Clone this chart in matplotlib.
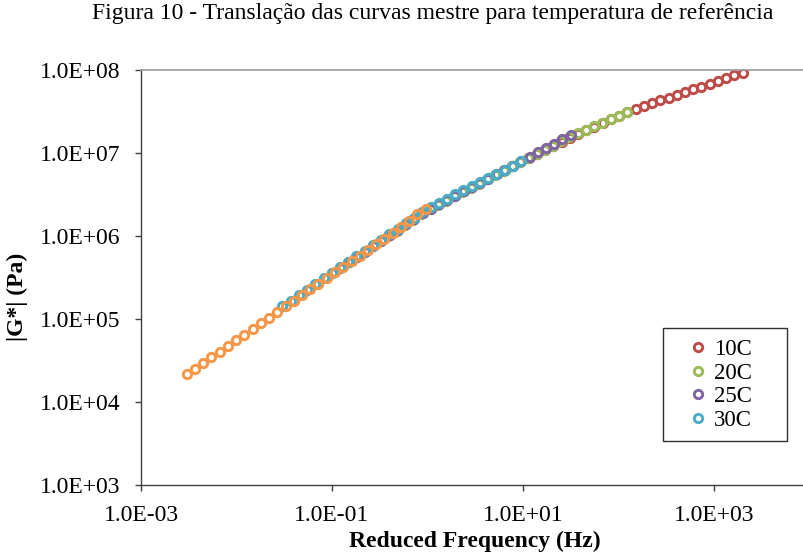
import matplotlib
matplotlib.use("Agg")
import matplotlib.pyplot as plt
from matplotlib.ticker import FixedLocator, FuncFormatter, NullLocator
from matplotlib.patches import Rectangle
import numpy as np

plt.rcParams['font.family'] = ['Liberation Serif', 'DejaVu Serif']

# Test frequencies (Hz) common to every temperature sweep
base_freq = [0.100, 0.122, 0.149, 0.181, 0.221, 0.270, 0.329, 0.401, 0.489, 0.597,
             0.728, 0.888, 1.08, 1.32, 1.61, 1.96, 2.39, 2.92, 3.56, 4.34,
             5.30, 6.46, 7.88, 9.61, 11.7, 14.3, 17.4, 21.3, 25.9, 31.6]

# shift factors aT for each temperature (reduced frequency = f * aT)
shift_10C = 63.1
shift_20C = 3.89
shift_25C = 1.0
shift_30C = 0.302
shift_40C = 0.0302

g_10C = [6.31e6, 7.05e6, 7.87e6, 8.79e6, 9.82e6, 1.10e7, 1.22e7, 1.37e7, 1.53e7, 1.69e7,
         1.88e7, 2.08e7, 2.31e7, 2.56e7, 2.83e7, 3.14e7, 3.40e7, 3.67e7, 3.97e7, 4.30e7,
         4.63e7, 5.01e7, 5.42e7, 5.85e7, 6.32e7, 6.82e7, 7.38e7, 7.98e7, 8.61e7, 9.31e7]
g_20C = [1.00e6, 1.16e6, 1.35e6, 1.57e6, 1.82e6, 2.10e6, 2.37e6, 2.66e6, 3.00e6, 3.38e6,
         3.80e6, 4.29e6, 4.82e6, 5.43e6, 6.12e6, 6.89e6, 7.74e6, 8.71e6, 9.79e6, 1.10e7,
         1.23e7, 1.39e7, 1.56e7, 1.72e7, 1.90e7, 2.09e7, 2.31e7, 2.55e7, 2.82e7, 3.12e7]
g_25C = [3.55e5, 4.13e5, 4.80e5, 5.58e5, 6.49e5, 7.55e5, 8.77e5, 1.02e6, 1.19e6, 1.38e6,
         1.60e6, 1.87e6, 2.14e6, 2.41e6, 2.72e6, 3.05e6, 3.44e6, 3.88e6, 4.36e6, 4.92e6,
         5.53e6, 6.22e6, 7.01e6, 8.00e6, 9.01e6, 1.02e7, 1.15e7, 1.29e7, 1.46e7, 1.64e7]
g_30C = [1.43e5, 1.67e5, 1.94e5, 2.26e5, 2.64e5, 3.08e5, 3.58e5, 4.18e5, 4.86e5, 5.68e5,
         6.62e5, 7.71e5, 8.99e5, 1.05e6, 1.22e6, 1.42e6, 1.66e6, 1.93e6, 2.25e6, 2.52e6,
         2.83e6, 3.17e6, 3.56e6, 3.99e6, 4.47e6, 5.01e6, 5.61e6, 6.30e6, 7.06e6, 7.92e6]
g_40C = [2.16e4, 2.53e4, 2.96e4, 3.46e4, 4.05e4, 4.74e4, 5.55e4, 6.49e4, 7.59e4, 8.87e4,
         1.04e5, 1.21e5, 1.42e5, 1.66e5, 1.94e5, 2.28e5, 2.66e5, 3.11e5, 3.64e5, 4.26e5,
         4.98e5, 5.82e5, 6.81e5, 7.96e5, 9.31e5, 1.10e6, 1.30e6, 1.53e6, 1.82e6, 2.14e6]

series = [
    ("10C", shift_10C, g_10C, "#BE4B48", True),
    ("20C", shift_20C, g_20C, "#9BBB59", True),
    ("25C", shift_25C, g_25C, "#8064A2", True),
    ("30C", shift_30C, g_30C, "#4BACC6", True),
    ("40C", shift_40C, g_40C, "#F79646", False),
]

x_ticks = [1e-3, 1e-1, 1e1, 1e3]
y_ticks = [1e3, 1e4, 1e5, 1e6, 1e7, 1e8]

W, H = 804, 555
fig = plt.figure(figsize=(W / 100, H / 100), dpi=100)
ax_left, ax_right, ax_bot, ax_top = 141, 809.5, 485, 70
ax = fig.add_axes([ax_left / W, 1 - ax_bot / H, (ax_right - ax_left) / W, (ax_bot - ax_top) / H])

handles = []
for name, aT, g, col, inleg in series:
    xf = np.array(base_freq) * aT
    h, = ax.plot(xf, g, linestyle='none', marker='o', ms=6.0, mew=2.1,
                 mfc='none', mec=col, label=name)
    if inleg:
        handles.append(h)

ax.set_xscale('log')
ax.set_yscale('log')
ax.set_xlim(1e-3, 1e4)
ax.set_ylim(1e3, 1e8)
ax.xaxis.set_major_locator(FixedLocator(x_ticks))
ax.yaxis.set_major_locator(FixedLocator(y_ticks))
ax.xaxis.set_minor_locator(NullLocator())
ax.yaxis.set_minor_locator(NullLocator())
fmt = FuncFormatter(lambda v, p: f"{v:.1E}")
ax.xaxis.set_major_formatter(fmt)
ax.yaxis.set_major_formatter(fmt)
ax.tick_params(axis='both', which='major', direction='out', length=4.5, width=1.0,
               color='#404040', labelsize=17, labelcolor='black')
ax.tick_params(axis='y', pad=10)
ax.tick_params(axis='x', pad=10)

for s in ['left', 'bottom']:
    ax.spines[s].set_color('#404040')
    ax.spines[s].set_linewidth(1.0)
ax.spines['top'].set_color('#9A9A9A')
ax.spines['top'].set_linewidth(1.2)
ax.spines['right'].set_visible(False)

fig.text(475 / W, 1 - 541 / H, "Reduced Frequency (Hz)", ha='center', va='center',
         fontsize=17, fontweight='bold')
fig.text(17 / W, 1 - 297 / H, "|G*| (Pa)", ha='center', va='center', rotation=90,
         fontsize=17, fontweight='bold')
fig.text(433 / W, 1 - 13 / H,
         "Figura 10 - Translação das curvas mestre para temperatura de referência",
         ha='center', va='center', fontsize=17)

# legend box
fig.patches.append(Rectangle((663 / W, 1 - 441 / H), 124 / W, 113 / H,
                             transform=fig.transFigure, fill=True, facecolor='white',
                             edgecolor='#303030', linewidth=1.0, zorder=5))
leg = fig.legend(handles=handles, loc='center left',
                 bbox_to_anchor=(689 / W, 1 - 385 / H), bbox_transform=fig.transFigure,
                 frameon=False, fontsize=16.5, handlelength=0.8, handletextpad=0.3,
                 labelspacing=0.12, borderpad=0.0, borderaxespad=0.0)
leg.set_zorder(6)

fig.savefig("out.png", dpi=100)
